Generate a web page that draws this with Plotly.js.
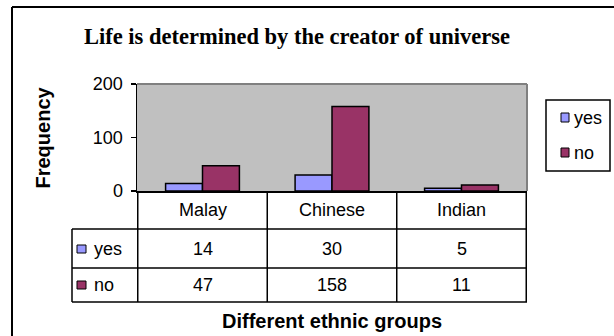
<!DOCTYPE html>
<html>
<head>
<meta charset="utf-8">
<script src="https://cdn.plot.ly/plotly-3.0.1.min.js"></script>
<style>html,body{margin:0;padding:0;background:#fff;overflow:hidden;}#chart{width:614px;height:336px;overflow:hidden;}</style>
</head>
<body>
<div id="chart"></div>
<script>
// ---- data ----
const categories = ["Malay", "Chinese", "Indian"];
const yesValues = [14, 30, 5];
const noValues = [47, 158, 11];
const seriesNames = ["yes", "no"];
const chartTitle = "Life is determined by the creator of universe";
const xTitle = "Different ethnic groups";
const yTitle = "Frequency";
const yTickVals = [0, 100, 200];

// ---- styles ----
const colYes = "#9999FF";
const colNo = "#993366";
const W = 614, H = 336;
const L = 137, R = 527, T = 84, B = 191;
const px = v => (v - L) / (R - L);
const py = v => (B - v) / (B - T);
const sans = "Arial, Liberation Sans, sans-serif";
const serif = "Times New Roman, Liberation Serif, serif";
const fs = 18;

const traces = [
  {type: "bar", name: seriesNames[0], x: categories, y: yesValues,
   marker: {color: colYes, line: {color: "#000", width: 1.5}}, hoverinfo: "none"},
  {type: "bar", name: seriesNames[1], x: categories, y: noValues,
   marker: {color: colNo, line: {color: "#000", width: 1.5}}, hoverinfo: "none"}
];

const shapes = [];
const ann = [];
const line = (x0, y0, x1, y1, xref, c, w) => shapes.push({type: "line", xref: xref || "paper", yref: "paper",
  x0: x0, y0: y0, x1: x1, y1: y1, line: {color: c || "#000", width: w || 1.5}});
const text = (o) => ann.push(Object.assign({showarrow: false, xanchor: "center", yanchor: "middle",
  font: {family: sans, size: fs, color: "#000"}}, o));

// outer frame (left and top edges visible; the rest runs past the picture)
line(px(12), py(7), px(614), py(7), "paper", "#000", 2);
line(px(12), py(7), px(12), py(336), "paper", "#000", 2);
// plot area border (gray)
line(0, 1, 1, 1, "paper", "#808080", 2);
line(1, 0, 1, 1, "paper", "#808080", 2);

// data table grid
[229, 268, 302].forEach(y => line(px(72), py(y), 1, py(y)));
for (let i = 0; i <= categories.length; i++) {
  line(i - 0.5, 0, i - 0.5, py(302), "x");
}
line(px(72), py(229), px(72), py(302));

// category row
categories.forEach((c, i) => text({xref: "x", yref: "paper", x: i, y: py(210), text: c}));
// value rows
const rows = [[seriesNames[0], yesValues, colYes, 249], [seriesNames[1], noValues, colNo, 285]];
rows.forEach(([nm, vals, col, yc]) => {
  vals.forEach((v, i) => text({xref: "x", yref: "paper", x: i, y: py(yc), text: String(v)}));
  shapes.push({type: "rect", xref: "paper", yref: "paper", x0: px(77), x1: px(86), y0: py(yc - 4), y1: py(yc + 4),
    fillcolor: col, line: {color: "#000", width: 1}});
  text({xref: "paper", yref: "paper", x: px(92), y: py(yc), xanchor: "left", text: nm});
});

// side legend
shapes.push({type: "rect", xref: "paper", yref: "paper", x0: px(546), x1: px(610), y0: py(100), y1: py(171),
  line: {color: "#000", width: 1.5}});
[[seriesNames[0], colYes, 117.5], [seriesNames[1], colNo, 152.5]].forEach(([nm, col, yc]) => {
  shapes.push({type: "rect", xref: "paper", yref: "paper", x0: px(561), x1: px(569), y0: py(yc - 4.5), y1: py(yc + 4.5),
    fillcolor: col, line: {color: "#000", width: 1}});
  text({xref: "paper", yref: "paper", x: px(572), y: py(yc), xanchor: "left", text: nm});
});

// titles
text({xref: "paper", yref: "paper", x: px(296.5), y: py(36.5), text: "<b>" + chartTitle + "</b>",
  font: {family: serif, size: 22.5, color: "#000"}});
text({xref: "paper", yref: "paper", x: px(332), y: py(320.5), text: "<b>" + xTitle + "</b>",
  font: {family: sans, size: 20, color: "#000"}});
text({xref: "paper", yref: "paper", x: px(42), y: py(137.5), text: "<b>" + yTitle + "</b>", textangle: -90,
  font: {family: sans, size: 20, color: "#000"}});

const layout = {
  width: W, height: H,
  margin: {l: L, r: W - R, t: T, b: H - B, pad: 0},
  paper_bgcolor: "#fff", plot_bgcolor: "#C0C0C0",
  showlegend: false,
  barmode: "group", bargap: 0.43, bargroupgap: 0,
  xaxis: {type: "category", showticklabels: false, ticks: "", showgrid: false, zeroline: false,
    showline: true, linecolor: "#000", linewidth: 1.5, fixedrange: true},
  yaxis: {range: [0, 200], tickvals: yTickVals, ticks: "outside", ticklen: 5, tickwidth: 1.5, tickcolor: "#000",
    ticklabelstandoff: 4,
    showgrid: false, zeroline: false, showline: true, linecolor: "#000", linewidth: 1.5,
    tickfont: {family: sans, size: fs, color: "#000"}, fixedrange: true},
  shapes: shapes,
  annotations: ann
};
Plotly.newPlot("chart", traces, layout, {staticPlot: true, displayModeBar: false});
</script>
</body>
</html>
